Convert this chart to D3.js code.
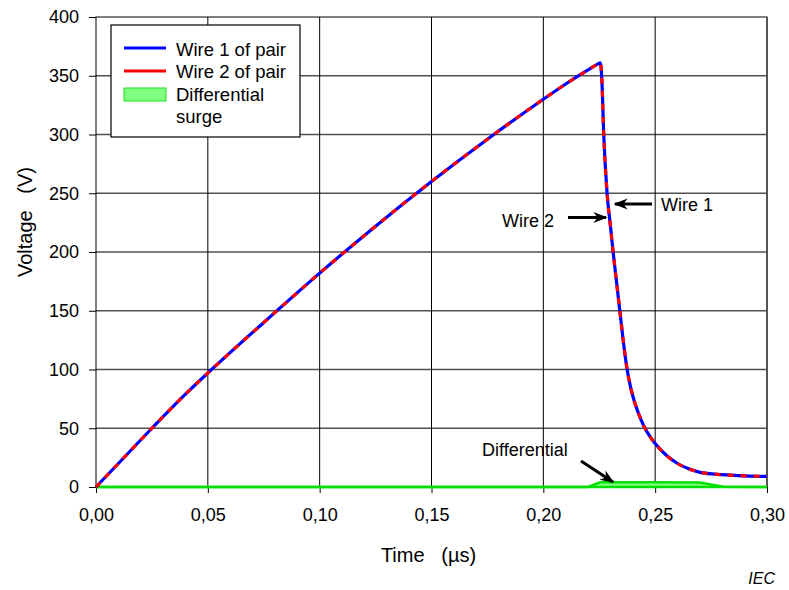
<!DOCTYPE html>
<html><head><meta charset="utf-8">
<script src="https://cdn.jsdelivr.net/npm/d3@7/dist/d3.min.js"></script>
<style>body{margin:0;background:#fff;} text{font-family:"Liberation Sans",Arial,sans-serif;}</style>
</head><body>
<svg id="c" width="789" height="590"></svg>
<script>
const wireT = [0,0.01,0.025,0.04,0.05,0.075,0.10,0.125,0.15,0.175,0.20,0.21,0.22,0.2235,0.2255,0.2262,0.2270,0.2285,0.2300,0.2312,0.2327,0.2342,0.2357,0.2373,0.2390,0.2410,0.2435,0.2460,0.2500,0.2550,0.2600,0.2650,0.2700,0.2800,0.2900,0.3000];
const wireV = [0,20,50,79,97,140,182,222,260,296,330,343,355,359,361,345,300,250,222,200,175,150,125,102,85,71,58,48,37,27,20,15.5,12.5,10.5,9.5,9];
const diffT = [0,0.220,0.2255,0.2500,0.2700,0.2805,0.3000];
const diffV = [0,0,4,4,3.8,0.3,0];
const xTicks = [0,0.05,0.10,0.15,0.20,0.25,0.30];
const yTicks = [0,50,100,150,200,250,300,350,400];
const legendLabels = ["Wire 1 of pair","Wire 2 of pair","Differential","surge"];

const svg = d3.select("#c");
const L=96,R=767,T=17,B=487;
const x = d3.scaleLinear().domain([0,0.30]).range([L,R]);
const y = d3.scaleLinear().domain([0,400]).range([B,T]);
const fmt = d => d.toFixed(2).replace(".",",");

// grid
svg.append("g").selectAll("line").data(yTicks.slice(1,-1)).join("line")
  .attr("x1",L).attr("x2",R).attr("y1",d=>y(d)).attr("y2",d=>y(d))
  .attr("stroke","#505050").attr("stroke-width",1.3);
svg.append("g").selectAll("line").data(xTicks.slice(1,-1)).join("line")
  .attr("y1",T).attr("y2",B).attr("x1",d=>x(d)).attr("x2",d=>x(d))
  .attr("stroke","#000").attr("stroke-width",1);
svg.append("rect").attr("x",L).attr("y",T).attr("width",R-L).attr("height",B-T)
  .attr("fill","none").attr("stroke","#000").attr("stroke-width",1);
svg.append("line").attr("x1",R).attr("x2",R).attr("y1",T).attr("y2",B).attr("stroke","#555").attr("stroke-width",2);

// axes
const xa = svg.append("g").attr("transform",`translate(0,${B})`)
  .call(d3.axisBottom(x).tickValues(xTicks).tickFormat(fmt).tickSize(6).tickPadding(15));
const ya = svg.append("g").attr("transform",`translate(${L},0)`)
  .call(d3.axisLeft(y).tickValues(yTicks).tickSize(7).tickPadding(10));
[xa,ya].forEach(a=>{a.select(".domain").remove();a.selectAll("text").attr("font-size",18).attr("fill","#000").style("font-family","Liberation Sans, Arial, sans-serif");a.selectAll("line").attr("stroke","#000");});

// differential
const area = d3.area().x((d,i)=>x(diffT[i])).y0(y(0)).y1((d,i)=>y(diffV[i]));
svg.append("path").datum(diffV).attr("d",area).attr("fill","#80ff80");
const dline = d3.line().x((d,i)=>x(diffT[i])).y((d,i)=>y(diffV[i]));
svg.append("path").datum(diffV).attr("d",dline).attr("fill","none").attr("stroke","#00e000").attr("stroke-width",2.5);
svg.append("line").attr("x1",x(0)).attr("x2",x(0.3)).attr("y1",y(0)).attr("y2",y(0)).attr("stroke","#00e000").attr("stroke-width",2.5);

// wires
const wline = d3.line().x((d,i)=>x(wireT[i])).y((d,i)=>y(wireV[i])).curve(d3.curveMonotoneX);
svg.append("path").datum(wireV).attr("d",wline).attr("fill","none").attr("stroke","#0000ff").attr("stroke-width",3.2);
svg.append("path").datum(wireV).attr("d",wline).attr("fill","none").attr("stroke","#ff0000").attr("stroke-width",3.2).attr("stroke-dasharray","6,7");

// arrows
const defs = svg.append("defs");
defs.append("marker").attr("id","ah").attr("viewBox","0 0 10 10").attr("refX",9).attr("refY",5)
  .attr("orient","auto").attr("markerUnits","userSpaceOnUse")
  .attr("markerWidth",14).attr("markerHeight",14)
  .append("path").attr("d","M0,1 L10,5 L0,9 L3,5 Z").attr("fill","#000");
function arrow(x1,y1,x2,y2){svg.append("line").attr("x1",x1).attr("y1",y1).attr("x2",x2).attr("y2",y2)
  .attr("stroke","#000").attr("stroke-width",3).attr("marker-end","url(#ah)");}
arrow(652,204,615,204);
arrow(568,217.5,606,217.5);
arrow(581,461,613,482);
svg.append("text").attr("x",661).attr("y",210.5).attr("font-size",18).text("Wire 1");
svg.append("text").attr("x",502).attr("y",226.5).attr("font-size",18).text("Wire 2");
svg.append("text").attr("x",482).attr("y",455.5).attr("font-size",18).text("Differential");

// legend
const lg = svg.append("g");
lg.append("rect").attr("x",111).attr("y",25).attr("width",189).attr("height",112).attr("fill","#fff").attr("stroke","#000").attr("stroke-width",1.2);
lg.append("line").attr("x1",124).attr("x2",166).attr("y1",48).attr("y2",48).attr("stroke","#0000ff").attr("stroke-width",3);
lg.append("line").attr("x1",124).attr("x2",166).attr("y1",71).attr("y2",71).attr("stroke","#ff0000").attr("stroke-width",3);
lg.append("rect").attr("x",124).attr("y",88).attr("width",42).attr("height",13).attr("fill","#80ff80").attr("stroke","#20e020").attr("stroke-width",1);
[55.5,78,101,123].forEach((yy,i)=>lg.append("text").attr("x",176).attr("y",yy).attr("font-size",18.5).text(legendLabels[i]));

// titles
svg.append("text").attr("x",428.5).attr("y",562).attr("text-anchor","middle").attr("font-size",20).style("white-space","pre").text("Time   (µs)");
svg.append("text").attr("transform","translate(32,222) rotate(-90)").attr("text-anchor","middle").attr("font-size",20).style("white-space","pre").text("Voltage   (V)");
svg.append("text").attr("x",775).attr("y",584).attr("text-anchor","end").attr("font-size",16).attr("font-style","italic").text("IEC");
</script>
</body></html>
